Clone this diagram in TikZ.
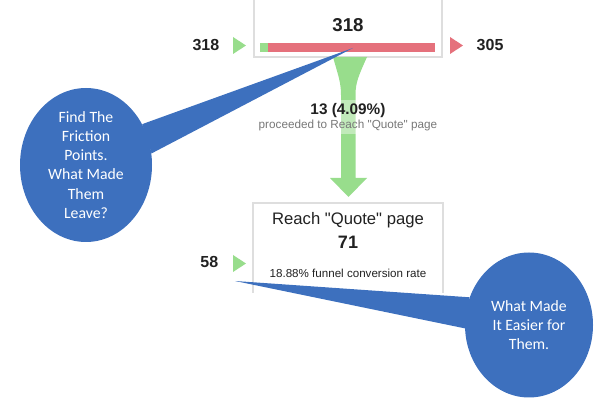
\documentclass[tikz,border=0pt]{standalone}
\usepackage{fontspec}
\setmainfont{Liberation Sans}
\newfontfamily\calloutfont{Carlito}
\usetikzlibrary{shapes.geometric}
\definecolor{gagreen}{RGB}{152,221,140}
\definecolor{gared}{RGB}{229,113,124}
\definecolor{callblue}{RGB}{61,112,190}
\definecolor{boxgray}{RGB}{222,222,222}
\definecolor{inkdark}{RGB}{33,33,33}
\definecolor{inkgray}{RGB}{120,120,120}

\begin{document}
\begin{tikzpicture}[x=0.75pt,y=-0.75pt,
    stepcard/.style={draw=boxgray,line width=0.9pt},
    sidenum/.style={font=\fontsize{12}{14}\selectfont\bfseries,text=inkdark},
    callout/.style={ellipse,fill=callblue,inner sep=0pt,text=white,align=center,
      font=\calloutfont\fontsize{11.8}{14.3}\selectfont}]
  \useasboundingbox (0,0) rectangle (600,402);

  % first step card
  \draw[stepcard] (254,0) -- (254,57) -- (442,57) -- (442,0);
  \node[font=\fontsize{14}{16}\selectfont\bfseries,text=inkdark] (stepA) at (348,25) {318};
  \fill[gagreen] (260,43) rectangle (268,52);
  \fill[gared] (268,43) rectangle (435,52);
  \node[sidenum,anchor=east] (inA) at (224,45) {318};
  \fill[gagreen] (233,37) -- (246,45.5) -- (233,54) -- cycle;
  \fill[gared] (450,37) -- (463,45.5) -- (450,54) -- cycle;
  \node[sidenum,anchor=west] (exitA) at (472,45) {305};

  % funnel arrow
  \fill[gagreen] (333,57) .. controls (338,75) and (341,82) .. (341,95) -- (341,178)
    -- (330,178) -- (348.5,197) -- (367,178) -- (355.5,178) -- (355.5,95)
    .. controls (355.5,82) and (359,75) .. (367,57) -- cycle;
  \node[fill=white,fill opacity=0.4,text opacity=1,align=center,inner sep=2pt] (flowlbl) at (348,117)
    {\fontsize{11.5}{14}\selectfont\bfseries\color{inkdark}13 (4.09\%)\\[-1pt]
     \fontsize{8.8}{11}\selectfont\mdseries\color{inkgray}proceeded to Reach \textquotedbl Quote\textquotedbl{} page};

  % second step card
  \draw[stepcard] (253,293) |- (443,203) -- (443,293);
  \node[font=\fontsize{12.5}{15}\selectfont,text=inkdark] (stepB) at (348,220) {Reach \textquotedbl Quote\textquotedbl{} page};
  \node[font=\fontsize{13.5}{16}\selectfont\bfseries,text=inkdark] (countB) at (348,242) {71};
  \node[font=\fontsize{8.7}{11}\selectfont,text=inkdark] (rateB) at (348,273) {18.88\% funnel conversion rate};
  \node[sidenum,anchor=east] (inB) at (223,262) {58};
  \fill[gagreen] (233,255) -- (246,263.5) -- (233,272) -- cycle;

  % callouts
  \node[callout,minimum width=99pt,minimum height=115.5pt] (calloutA) at (86,165)
    {Find The\\Friction\\Points.\\What Made\\Them\\Leave?};
  \coordinate (tipA) at (353,48);
  \fill[callblue] (calloutA.36) -- (tipA) -- (calloutA.10) -- cycle;

  \node[callout,minimum width=96pt,minimum height=108.75pt] (calloutB) at (529,325)
    {What Made\\It Easier for\\Them.};
  \coordinate (tipB) at (235,281);
  \fill[callblue] (calloutB.155) -- (tipB) -- (calloutB.183) -- cycle;
\end{tikzpicture}
\end{document}
